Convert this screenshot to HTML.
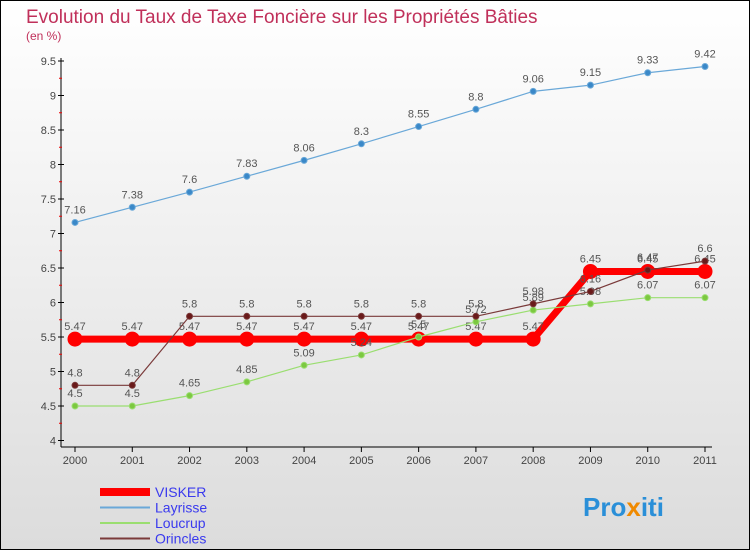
<!DOCTYPE html>
<html><head><meta charset="utf-8"><style>
body{margin:0;width:750px;height:550px;overflow:hidden;font-family:"Liberation Sans",sans-serif}
</style></head><body>
<svg id="c" width="750" height="550" xmlns="http://www.w3.org/2000/svg">
<defs><linearGradient id="bg" x1="0" y1="0" x2="0" y2="1"><stop offset="0" stop-color="#ffffff"/><stop offset="1" stop-color="#dcdcdc"/></linearGradient></defs>
<rect x="0.5" y="0.5" width="749" height="549" fill="url(#bg)" stroke="#000"/>
<text x="26" y="23" font-size="19" fill="#c0305a">Evolution du Taux de Taxe Foncière sur les Propriétés Bâties</text>
<text x="26" y="40" font-size="12" fill="#c0305a">(en %)</text>
<g id="axes"></g><g id="series"></g><g id="legend"></g>
<text x="583" y="516" font-size="26" font-weight="bold" fill="#2a8fd8">Pro<tspan fill="#f08a00">x</tspan>iti</text>
</svg>
<script>
const years=["2000","2001","2002","2003","2004","2005","2006","2007","2008","2009","2010","2011"];
const yTicks=[4,4.5,5,5.5,6,6.5,7,7.5,8,8.5,9,9.5];
const visker=[5.47,5.47,5.47,5.47,5.47,5.47,5.47,5.47,5.47,6.45,6.45,6.45];
const layrisse=[7.16,7.38,7.6,7.83,8.06,8.3,8.55,8.8,9.06,9.15,9.33,9.42];
const loucrup=[4.5,4.5,4.65,4.85,5.09,5.24,5.5,5.72,5.89,5.98,6.07,6.07];
const orincles=[4.8,4.8,5.8,5.8,5.8,5.8,5.8,5.8,5.98,6.16,6.47,6.6];
const NS="http://www.w3.org/2000/svg";
const X=i=>75+i*(630/11), Y=v=>440.5-(v-4)*69;
function mk(t,a,p){const e=document.createElementNS(NS,t);for(const k in a)e.setAttribute(k,a[k]);p.appendChild(e);return e;}
const ax=document.getElementById('axes');
let l=mk('line',{x1:61,y1:58,x2:61,y2:447,stroke:'#000'},ax);

l=mk('line',{x1:61,y1:447,x2:712,y2:447,stroke:'#000'},ax);

yTicks.forEach(v=>{
 mk('line',{x1:58,x2:64,y1:Y(v),y2:Y(v),stroke:'#000'},ax);
 if(v<9.5)mk('line',{x1:59,x2:62,y1:Y(v+0.25),y2:Y(v+0.25),stroke:'#e00'},ax);
 const t=mk('text',{x:56,y:Y(v)+4,'text-anchor':'end','font-size':11,fill:'#444'},ax);t.textContent=String(v);
 
});
years.forEach((y,i)=>{
 mk('line',{x1:X(i),x2:X(i),y1:447,y2:452,stroke:'#000'},ax);
 const t=mk('text',{x:X(i),y:464,'text-anchor':'middle','font-size':11,fill:'#444'},ax);t.textContent=y;
 
});
const sg=document.getElementById('series');
function series(name,vals,color,w,r,dot){
 const g=mk('g',{},sg);
 const p=mk('polyline',{points:vals.map((v,i)=>X(i)+','+Y(v)).join(' '),fill:'none',stroke:color,'stroke-width':w},g);
 
 vals.forEach((v,i)=>{
  const c=mk('circle',{cx:X(i),cy:Y(v),r:r,fill:dot,stroke:color,'stroke-width':1},g);
  
  const t=mk('text',{x:X(i),y:Y(v)-9,'text-anchor':'middle','font-size':11,fill:'#555'},g);t.textContent=String(v);
  
 });
}
series('layrisse',layrisse,'#6aa8d8',1.2,3,'#3a88c8');
series('visker',visker,'#f00',7,7,'#f00');
series('loucrup',loucrup,'#9ade70',1.2,3,'#7cc840');
series('orincles',orincles,'#7a3a3a',1.2,3,'#6a1a1a');
const lg=document.getElementById('legend');
[['VISKER','#f00',8],['Layrisse','#6aa8d8',2],['Loucrup','#9ade70',2],['Orincles','#7a3a3a',2]].forEach((e,i)=>{
 const y=492+i*15.5;
 const ln=mk('line',{x1:100,x2:150,y1:y,y2:y,stroke:e[1],'stroke-width':e[2]},lg);
 
 const t=mk('text',{x:155,y:y+5,'font-size':14,fill:'#3a3aee'},lg);t.textContent=e[0];
 
});
</script>
</body></html>
